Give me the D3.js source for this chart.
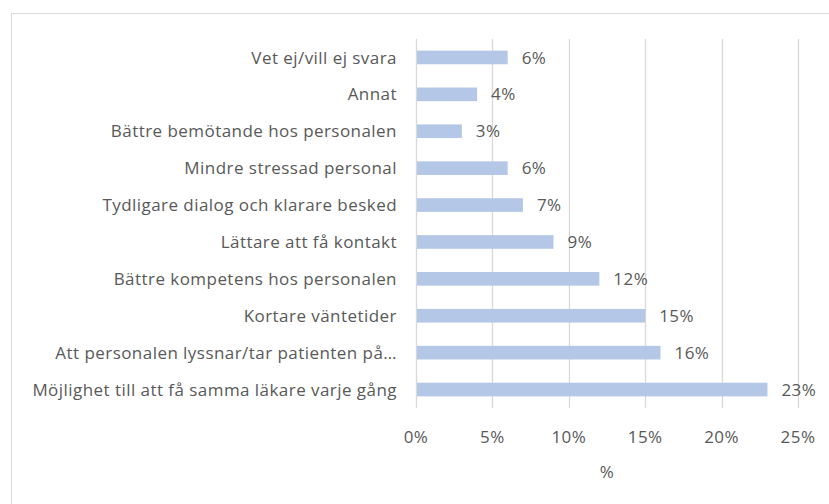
<!DOCTYPE html>
<html><head><meta charset="utf-8">
<script src="https://cdn.jsdelivr.net/npm/d3@7"></script>
<style>
body{margin:0;background:#fff;}
text{font-family:"Open Sans", sans-serif;fill:#595959;letter-spacing:0.45px;}
</style></head>
<body><svg id="c" width="829" height="504"></svg>
<script>
const categories = ["Vet ej/vill ej svara","Annat","Bättre bemötande hos personalen","Mindre stressad personal","Tydligare dialog och klarare besked","Lättare att få kontakt","Bättre kompetens hos personalen","Kortare väntetider","Att personalen lyssnar/tar patienten på…","Möjlighet till att få samma läkare varje gång"];
const values = [6,4,3,6,7,9,12,15,16,23];
const tickValues = [0,5,10,15,20,25];
const axisTitle = "%";

const svg = d3.select("#c");
svg.append("rect").attr("x",11.5).attr("y",13.5).attr("width",830).attr("height",500)
  .attr("fill","none").attr("stroke","#d9d9d9").attr("stroke-width",1);

const x = d3.scaleLinear().domain([0,25]).range([416,798]);
const y = d3.scaleBand().domain(categories).range([39,408]).paddingInner(0.63).paddingOuter(0.315);

svg.append("g").selectAll("line").data(tickValues).join("line")
  .attr("x1",d=>Math.round(x(d))+0.5).attr("x2",d=>Math.round(x(d))+0.5)
  .attr("y1",39).attr("y2",408).attr("stroke","#d9d9d9").attr("stroke-width",1.3);

svg.append("g").selectAll("rect").data(values).join("rect")
  .attr("x",x(0)+1).attr("y",(d,i)=>y(categories[i]))
  .attr("width",d=>x(d)-x(0)-1).attr("height",y.bandwidth())
  .attr("fill","#b4c7e7");

svg.append("g").selectAll("text").data(values).join("text")
  .attr("x",d=>x(d)+14).attr("y",(d,i)=>y(categories[i])+y.bandwidth()/2)
  .attr("dy","0.36em").attr("font-size",17).text(d=>d+"%");

svg.append("g").selectAll("text").data(categories).join("text")
  .attr("x",397).attr("y",d=>y(d)+y.bandwidth()/2).attr("dy","0.36em")
  .attr("text-anchor","end").attr("font-size",17).text(d=>d);

svg.append("g").selectAll("text").data(tickValues).join("text")
  .attr("x",d=>x(d)).attr("y",437).attr("dy","0.36em").attr("text-anchor","middle")
  .attr("font-size",17).text(d=>d+"%");

svg.append("text").attr("x",607).attr("y",472).attr("dy","0.36em").attr("text-anchor","middle")
  .attr("font-size",17).text(axisTitle);
</script></body></html>
